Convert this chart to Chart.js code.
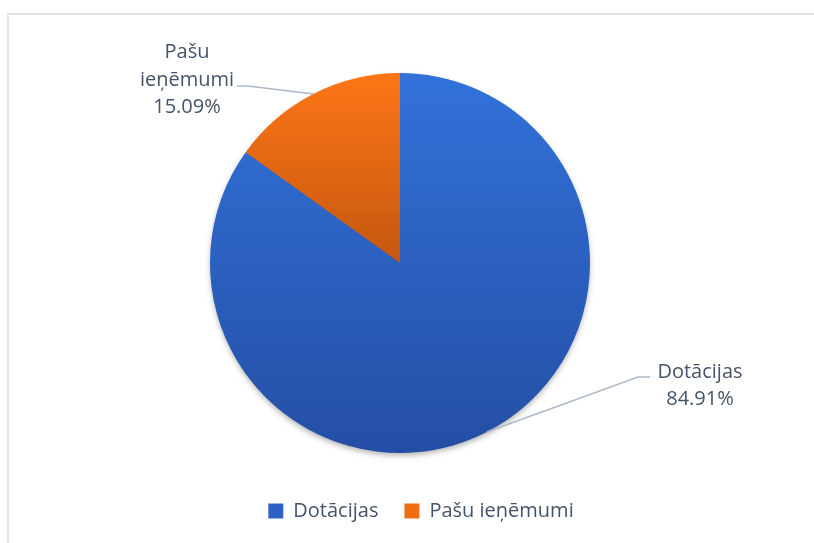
<!DOCTYPE html>
<html>
<head>
<meta charset="utf-8">
<script src="https://cdn.jsdelivr.net/npm/chart.js@4"></script>
<style>
  html, body { margin: 0; padding: 0; background: #fff; }
  #wrap { position: relative; width: 814px; height: 543px; overflow: hidden; }
  #frame { position: absolute; left: 7px; top: 13px; width: 900px; height: 600px; border: 2px solid #e1e4e9; box-sizing: border-box; }
  #myChart { position: absolute; left: 0; top: 0; }
</style>
</head>
<body>
<div id="wrap">
  <div id="frame"></div>
  <canvas id="myChart" width="814" height="543"></canvas>
</div>
<script>
// dati
var kategorijas = ['Dotācijas', 'Pašu ieņēmumi'];
var vertibas = [84.91, 15.09];
var etiketes = ['84.91%', '15.09%'];

// krāsas (augša -> apakša)
var kraasasAugsa = ['#3272da', '#fd7616'];
var kraasasApaksa = ['#244ea4', '#c4570f'];
var legendaKraasas = ['#2d62c4', '#f06d14'];

var teksts = '#44546a';
var fonts = '"Open Sans", sans-serif';

// slice vertical extent -> gradient
function sliceFill(c) {
    let chart = c.chart
    let a = chart.chartArea
    let i = c.dataIndex
    if (!a) return legendaKraasas[i]
    let meta = chart.getDatasetMeta(0)
    let el = meta.data[i]
    if (!el || !el.outerRadius) return legendaKraasas[i]
    let cy = el.y, r = el.outerRadius
    let a0 = el.startAngle, a1 = el.endAngle
    let ys = [cy, cy + r * Math.sin(a0), cy + r * Math.sin(a1)]
    ;[-Math.PI / 2, Math.PI / 2, 3 * Math.PI / 2, 5 * Math.PI / 2].forEach((t) => {
        if (t >= a0 && t <= a1) ys.push(cy + r * Math.sin(t))
    })
    let g = chart.ctx.createLinearGradient(0, Math.min(...ys), 0, Math.max(...ys))
    g.addColorStop(0, kraasasAugsa[i])
    g.addColorStop(1, kraasasApaksa[i])
    return g
}

// label placement relative to pie centre
var etikesuVietas = [
    { dx: 300, dy: 123, lh: 27, elbow: [238, 114], end: [250, 114], lines: ['Dotācijas', etiketes[0]] },
    { dx: -213, dy: -183, lh: 27.5, elbow: [-152, -177], end: [-163, -177], lines: ['Pašu', 'ieņēmumi', etiketes[1]] }
];

const ena = {
    id: 'ena',
    beforeDatasetsDraw(chart) {
        let el = chart.getDatasetMeta(0).data[0]
        if (!el) return
        let ctx = chart.ctx
        ctx.save()
        ctx.shadowColor = 'rgba(0,0,0,0.35)'
        ctx.shadowBlur = 6
        ctx.shadowOffsetY = 3
        ctx.fillStyle = '#2a5cba'
        ctx.beginPath()
        ctx.arc(el.x, el.y, el.outerRadius - 1, 0, Math.PI * 2)
        ctx.fill()
        ctx.restore()
    }
};

const datuEtiketes = {
    id: 'datuEtiketes',
    afterDatasetsDraw(chart) {
        let ctx = chart.ctx
        let meta = chart.getDatasetMeta(0)
        meta.data.forEach((el, i) => {
            let v = etikesuVietas[i]
            let mid = (el.startAngle + el.endAngle) / 2
            let px = el.x + el.outerRadius * Math.cos(mid)
            let py = el.y + el.outerRadius * Math.sin(mid)
            ctx.save()
            ctx.strokeStyle = '#adb9ca'
            ctx.lineWidth = 1.5
            ctx.beginPath()
            ctx.moveTo(px, py)
            ctx.lineTo(el.x + v.elbow[0], el.y + v.elbow[1])
            ctx.lineTo(el.x + v.end[0], el.y + v.end[1])
            ctx.stroke()

            ctx.fillStyle = teksts
            ctx.font = '20px ' + fonts
            ctx.textAlign = 'center'
            ctx.textBaseline = 'middle'
            let n = v.lines.length
            v.lines.forEach((t, k) => {
                let y = el.y + v.dy + (k - (n - 1) / 2) * v.lh
                ctx.fillText(t, el.x + v.dx, y)
            })
            ctx.restore()
        })
    }
};

// legend slightly right of pie centre
const legendaNobide = {
    id: 'legendaNobide',
    afterLayout(chart) {
        chart.legend.left += 21
        chart.legend.right += 21
    }
};

const ctx = document.getElementById('myChart');

const grafiks = new Chart(ctx, {
    type: 'pie',
    data: {
        labels: kategorijas,
        datasets: [{
            data: vertibas,
            backgroundColor: sliceFill,
            borderWidth: 0,
            radius: 190
        }]
    },
    options: {
        responsive: false,
        animation: false,
        layout: {
            padding: { top: 51, bottom: 12, left: 0, right: 14 }
        },
        plugins: {
            tooltip: { enabled: false },
            legend: {
                position: 'bottom',
                labels: {
                    boxWidth: 15,
                    boxHeight: 15,
                    padding: 26,
                    color: teksts,
                    font: { family: fonts, size: 20 },
                    generateLabels(chart) {
                        return kategorijas.map((k, i) => ({
                            text: k,
                            fillStyle: legendaKraasas[i],
                            strokeStyle: legendaKraasas[i],
                            lineWidth: 0,
                            fontColor: teksts,
                            index: i
                        }))
                    }
                }
            }
        }
    },
    plugins: [ena, datuEtiketes, legendaNobide]
});

// second pass so the gradients know the slice geometry
grafiks.update('none')
</script>
</body>
</html>
